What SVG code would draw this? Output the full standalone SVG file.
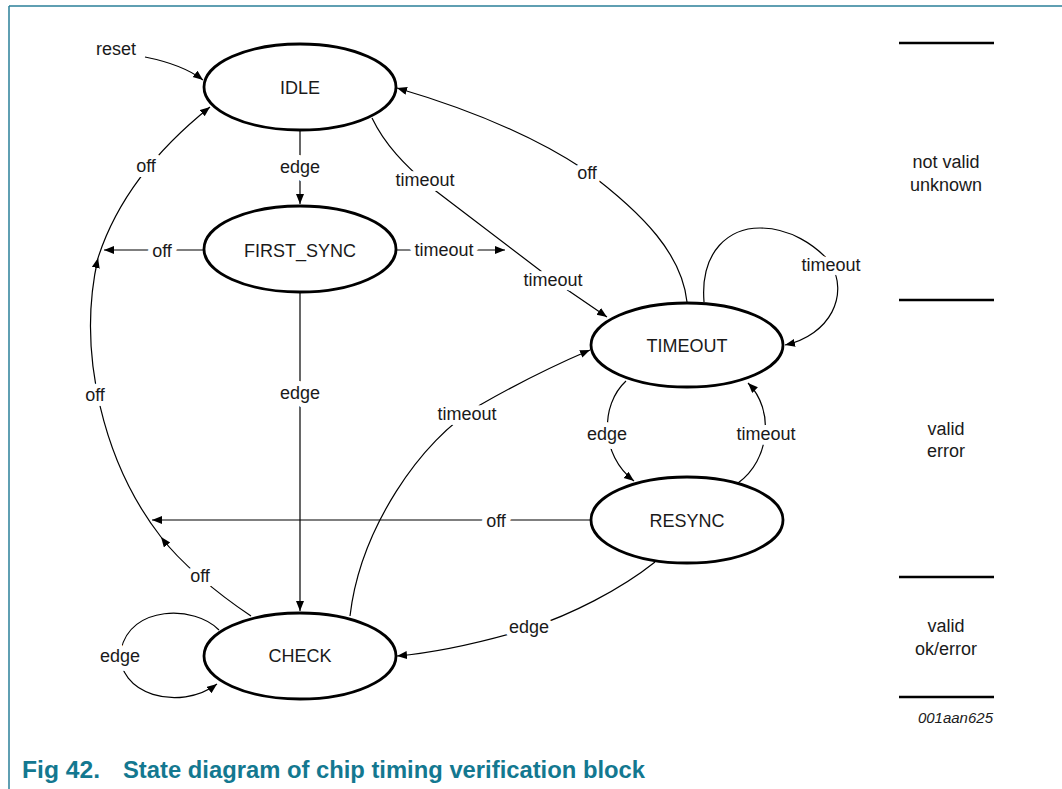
<svg xmlns="http://www.w3.org/2000/svg" width="1062" height="789" viewBox="0 0 1062 789">
<style>
.st{fill:#fff;stroke:#000;stroke-width:2.8}
.nt{font-family:"Liberation Sans",Arial,sans-serif;font-size:18px;fill:#1a1a1a;text-anchor:middle}
.c{fill:none;stroke:#000;stroke-width:1.2}
.lb{font-family:"Liberation Sans",Arial,sans-serif;font-size:18px;fill:#1a1a1a;text-anchor:middle;stroke:#fff;stroke-width:10;paint-order:stroke;stroke-linejoin:round}
.bar{stroke:#000;stroke-width:2.6}
.cap{font-family:"Liberation Sans",Arial,sans-serif;font-size:23px;font-weight:bold;fill:#137890}
</style>
<defs>
<marker id="ah" markerUnits="userSpaceOnUse" markerWidth="11" markerHeight="9" refX="10" refY="4" orient="auto">
<path d="M0,0 L10,4 L0,8 z" fill="#000"/>
</marker>
</defs>
<rect width="1062" height="789" fill="#fff"/>
<g id="frame" stroke="#2a7f98" stroke-width="1.5">
<line x1="9" y1="6" x2="1062" y2="6"/>
<line x1="9" y1="6" x2="9" y2="789"/>
</g>
<g id="connectors">
<path class="c" d="M145,57 C170,62 190,70 203,80" marker-end="url(#ah)"/>
<path class="c" d="M300,131 L300,204" marker-end="url(#ah)"/>
<path class="c" d="M300,292 L300,611" marker-end="url(#ah)"/>
<path class="c" d="M204,250 L104,250" marker-end="url(#ah)"/>
<path class="c" d="M251,616 C215,592 180,562 161,537" marker-end="url(#ah)"/>
<path class="c" d="M161,537 C105,465 76,355 98,258" marker-end="url(#ah)"/>
<path class="c" d="M98,258 C115,205 150,155 210,107" marker-end="url(#ah)"/>
<path class="c" d="M591,520 L152,520" marker-end="url(#ah)"/>
<path class="c" d="M219,630 C195,605 130,605 121,650 C115,695 180,712 217,684" marker-end="url(#ah)"/>
<path class="c" d="M396,250 L505,250" marker-end="url(#ah)"/>
<path class="c" d="M372,118 C385,145 405,165 428,185 L550,278 L607,317" marker-end="url(#ah)"/>
<path class="c" d="M687,302 C682,255 645,215 585,170 C525,130 455,105 397,88" marker-end="url(#ah)"/>
<path class="c" d="M704,302 C700,250 730,228 760,228 C790,228 815,245 830,262 C850,295 830,335 785,345" marker-end="url(#ah)"/>
<path class="c" d="M350,616 C360,530 420,440 480,405 C520,382 555,365 590,350" marker-end="url(#ah)"/>
<path class="c" d="M626,381 C600,405 600,455 634,481" marker-end="url(#ah)"/>
<path class="c" d="M738,483 C770,460 775,410 748,383" marker-end="url(#ah)"/>
<path class="c" d="M655,562 C620,590 570,615 530,628 C480,643 440,652 397,656" marker-end="url(#ah)"/>
<text class="lb" x="116" y="55">reset</text>
<text class="lb" x="300" y="173">edge</text>
<text class="lb" x="300" y="399">edge</text>
<text class="lb" x="162" y="257">off</text>
<text class="lb" x="146" y="172">off</text>
<text class="lb" x="95" y="401">off</text>
<text class="lb" x="200" y="582">off</text>
<text class="lb" x="496" y="527">off</text>
<text class="lb" x="120" y="662">edge</text>
<text class="lb" x="444" y="256">timeout</text>
<text class="lb" x="425" y="186">timeout</text>
<text class="lb" x="553" y="286">timeout</text>
<text class="lb" x="587" y="179">off</text>
<text class="lb" x="831" y="271">timeout</text>
<text class="lb" x="467" y="420">timeout</text>
<text class="lb" x="607" y="440">edge</text>
<text class="lb" x="766" y="440">timeout</text>
<text class="lb" x="529" y="633">edge</text>
</g>
<g id="IDLE"><ellipse class="st" cx="300" cy="87" rx="96" ry="43"/><text class="nt" x="300" y="94">IDLE</text></g>
<g id="FIRST_SYNC"><ellipse class="st" cx="300" cy="249" rx="96" ry="43"/><text class="nt" x="300" y="257">FIRST_SYNC</text></g>
<g id="TIMEOUT"><ellipse class="st" cx="687" cy="345" rx="96" ry="42"/><text class="nt" x="687" y="352">TIMEOUT</text></g>
<g id="RESYNC"><ellipse class="st" cx="687" cy="520" rx="96" ry="43"/><text class="nt" x="687" y="527">RESYNC</text></g>
<g id="CHECK"><ellipse class="st" cx="300" cy="656" rx="96" ry="43"/><text class="nt" x="300" y="662">CHECK</text></g>
<g id="legend">
<line class="bar" x1="899" y1="43" x2="994" y2="43"/>
<line class="bar" x1="899" y1="300" x2="994" y2="300"/>
<line class="bar" x1="899" y1="577" x2="994" y2="577"/>
<line class="bar" x1="899" y1="697" x2="994" y2="697"/>
<text class="nt" x="946" y="168">not valid</text>
<text class="nt" x="946" y="191">unknown</text>
<text class="nt" x="946" y="435">valid</text>
<text class="nt" x="946" y="457">error</text>
<text class="nt" x="946" y="632">valid</text>
<text class="nt" x="946" y="655">ok/error</text>
<text x="993" y="723" font-family="Liberation Sans, Arial, sans-serif" font-size="15" font-style="italic" fill="#1a1a1a" text-anchor="end">001aan625</text>
</g>
<g id="caption">
<text class="cap" x="22" y="778" textLength="78" lengthAdjust="spacingAndGlyphs">Fig 42.</text>
<text class="cap" x="123" y="778" textLength="522" lengthAdjust="spacingAndGlyphs">State diagram of chip timing verification block</text>
</g>
</svg>
